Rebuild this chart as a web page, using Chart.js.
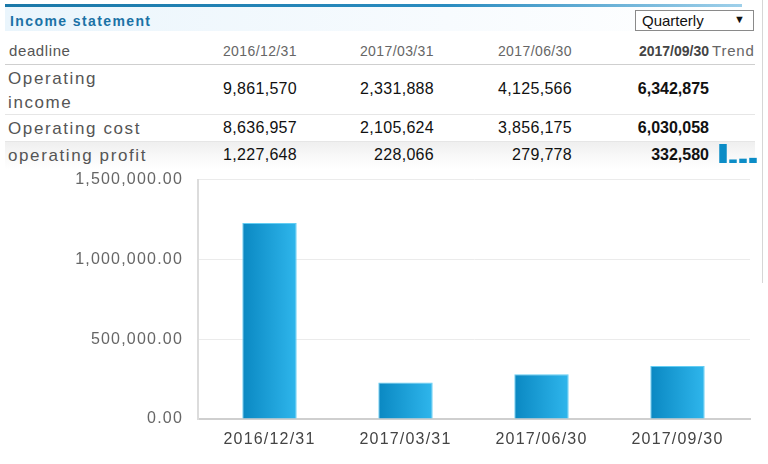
<!DOCTYPE html>
<html>
<head>
<meta charset="utf-8">
<script src="https://cdn.jsdelivr.net/npm/chart.js@4/dist/chart.umd.min.js"></script>
<style>
  html, body { margin: 0; padding: 0; background: #fff; }
  body { width: 768px; height: 464px; position: relative; overflow: hidden; font-family: Arial, "Liberation Sans", sans-serif; }
  .abs { position: absolute; white-space: nowrap; }
  .topbar { left: 5px; top: 4px; width: 737px; height: 3px; background: linear-gradient(to right, #1a78a8 0%, #2a8cc0 60%, #9fd0ea 100%); }
  .titlebg { left: 5px; top: 7px; width: 737px; height: 24px; background: linear-gradient(to right, #eaf5fc 0%, #f7fbfe 60%, #ffffff 100%); }
  .title { left: 10px; top: 13px; font-size: 14px; font-weight: bold; letter-spacing: 1.4px; color: #1b72a6; }
  .select { left: 635px; top: 10px; width: 117px; height: 19px; border: 1px solid #8a8a8a; background: #fff; font-size: 15px; color: #111; }
  .select span.t { position: absolute; left: 6px; top: 1px; }
  .select span.a { position: absolute; right: 8px; top: 2px; font-size: 11px; }
  .hdr { font-size: 14px; color: #666; top: 43px; letter-spacing: 0.4px; }
  .lbl { font-size: 17px; color: #555; letter-spacing: 1.6px; left: 8px; }
  .val { font-size: 16px; color: #111; text-align: right; width: 120px; letter-spacing: 0.3px; }
  .line { height: 1px; background: #dedede; left: 5px; width: 750px; }
  .vborder { left: 762px; top: 0px; width: 1px; height: 283px; background: #d6d6d6; }
</style>
</head>
<body>
<div id="root"></div>
<canvas id="spark" class="abs" style="left:718px; top:144px; width:40px; height:19px;" width="40" height="19"></canvas>
<canvas id="main" class="abs" style="left:0px; top:155px; width:760px; height:309px;" width="760" height="309"></canvas>
<script>
// ---- data ----
const periods = ["2016/12/31", "2017/03/31", "2017/06/30", "2017/09/30"];
const operatingIncome = [9861570, 2331888, 4125566, 6342875];
const operatingCost = [8636957, 2105624, 3856175, 6030058];
const operatingProfit = [1227648, 228066, 279778, 332580];
const yTicks = [0, 500000, 1000000, 1500000];

const fmtInt = v => v.toLocaleString("en-US");
const fmtDec = v => v.toLocaleString("en-US", { minimumFractionDigits: 2, maximumFractionDigits: 2 });

// ---- table (HTML) ----
const root = document.getElementById("root");
function add(cls, style, html) {
  const d = document.createElement("div");
  d.className = "abs " + cls;
  d.setAttribute("style", style);
  d.innerHTML = html;
  root.appendChild(d);
  return d;
}
add("titlebg", "", "");
add("topbar", "", "");
add("vborder", "", "");
add("title", "", "Income statement");
add("select", "", '<span class="t">Quarterly</span><span class="a">&#9660;</span>');

const colRight = [297, 434, 572, 709];
add("hdr", "left:9px; color:#555; font-size:15px; letter-spacing:0.6px; top:42px;", "deadline");
periods.forEach((p, i) => {
  const last = i === periods.length - 1;
  add("hdr", `left:${colRight[i] - 120}px; width:120px; text-align:right; letter-spacing:0.4px;${last ? " font-weight:bold; color:#444; letter-spacing:0px;" : ""}`, p);
});
add("hdr", "left:712px; letter-spacing:0.8px; font-size:15px; top:42px;", "Trend");
add("line", "top:64px; background:#cfcfcf;", "");

// profit row background
add("", "left:5px; top:142px; width:750px; height:28px; background:linear-gradient(#efefef, #fafafa 60%, #ffffff);", "");

add("lbl", "top:69px;", "Operating");
add("lbl", "top:93px;", "income");
add("line", "top:114px; background:#e6e6e6;", "");
add("lbl", "top:119px;", "Operating cost");
add("line", "top:141px; background:#e6e6e6;", "");
add("lbl", "top:146px;", "operating profit");

function valueRow(arr, top) {
  arr.forEach((v, i) => {
    const last = i === arr.length - 1;
    add("val", `left:${colRight[i] - 120}px; top:${top}px;${last ? " font-weight:bold; letter-spacing:0px;" : ""}`, fmtInt(v));
  });
}
valueRow(operatingIncome, 80);
valueRow(operatingCost, 119);
valueRow(operatingProfit, 146);

// ---- main chart ----
function barGradient(ctx) {
  const chart = ctx.chart;
  const el = ctx.element;
  const xs = chart.scales.x;
  if (!xs || !chart.chartArea) return "#1a9ad6";
  const cw = xs._length / periods.length;
  const bw = cw * 0.4;
  const cx = xs.getPixelForValue(ctx.dataIndex);
  const g = chart.ctx.createLinearGradient(cx - bw / 2, 0, cx + bw / 2, 0);
  g.addColorStop(0, "#0a88c2");
  g.addColorStop(1, "#2fb6ec");
  return g;
}

const letterSpacingPlugin = {
  id: "ls",
  beforeDraw(chart) { chart.ctx.letterSpacing = "1.2px"; }
};

// category band inset inside the plot (the reference keeps a small margin at both ends)
const bandInset = { left: 3.5, right: 4.5 };
const bandPlugin = {
  id: "band",
  afterLayout(chart) {
    const xs = chart.scales.x;
    xs._startPixel = xs.left + bandInset.left;
    xs._endPixel = xs.right - bandInset.right;
    xs._length = xs._endPixel - xs._startPixel;
  }
};

new Chart(document.getElementById("main"), {
  type: "bar",
  data: {
    labels: periods,
    datasets: [{
      data: operatingProfit,
      backgroundColor: barGradient,
      borderColor: "#63cdf3",
      borderWidth: 1,
      borderSkipped: "bottom",
      barPercentage: 0.4,
      categoryPercentage: 1.0
    }]
  },
  options: {
    responsive: false,
    animation: false,
    devicePixelRatio: 1,
    layout: { padding: { top: 5, right: 10, left: 0, bottom: 0 } },
    plugins: { legend: { display: false }, tooltip: { enabled: false } },
    scales: {
      x: {
        grid: { display: false, drawTicks: false },
        border: { display: true, color: "#cfcfcf", width: 2 },
        ticks: { color: "#444", font: { family: "Arial", size: 16 }, padding: 11, maxRotation: 0 },
        afterFit(s) { s.height = 45; }
      },
      y: {
        min: 0,
        max: 1500000,
        afterBuildTicks(s) { s.ticks = yTicks.map(v => ({ value: v })); },
        grid: { color: "#ebebeb", lineWidth: 1, drawTicks: false },
        border: { display: true, color: "#dcdcdc", width: 2 },
        ticks: { color: "#666", font: { family: "Arial", size: 16 }, padding: 15, callback: v => fmtDec(v) },
        afterFit(s) { s.width = 198; }
      }
    }
  },
  plugins: [letterSpacingPlugin, bandPlugin]
});

// ---- sparkline ----
new Chart(document.getElementById("spark"), {
  type: "bar",
  data: {
    labels: periods,
    datasets: [{
      data: operatingProfit,
      backgroundColor: "#0b8cc6",
      borderWidth: 0,
      barPercentage: 0.75,
      categoryPercentage: 1.0
    }]
  },
  options: {
    responsive: false,
    animation: false,
    devicePixelRatio: 1,
    layout: { padding: 0 },
    plugins: { legend: { display: false }, tooltip: { enabled: false } },
    scales: {
      x: { display: false },
      y: { display: false, min: 0, max: Math.max(...operatingProfit) }
    }
  }
});
</script>
</body>
</html>
